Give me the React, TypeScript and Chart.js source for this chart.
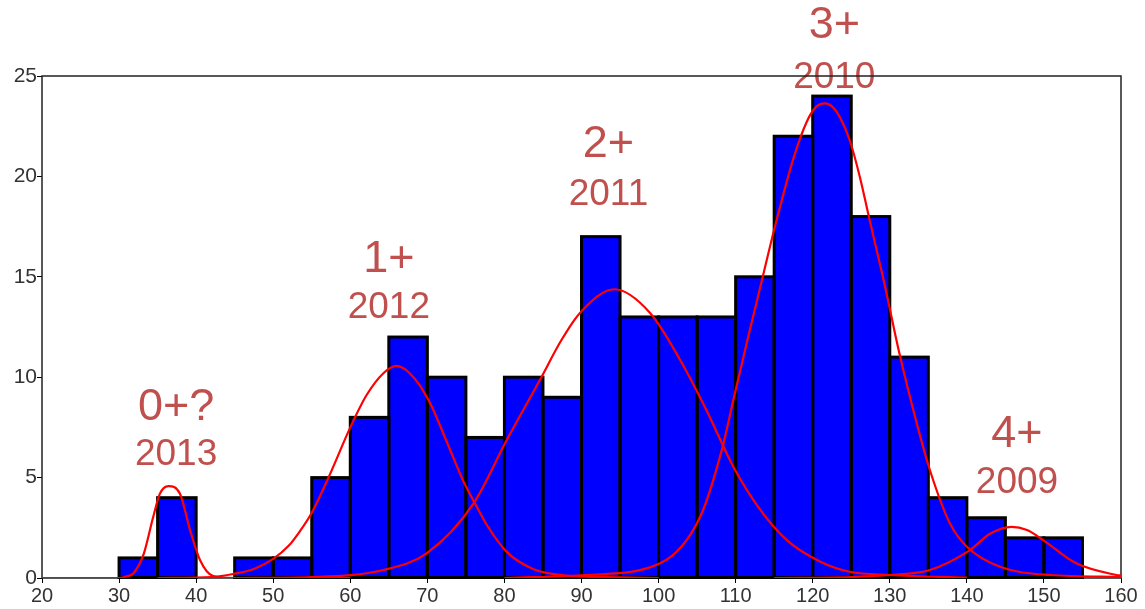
import React, { useEffect, useRef } from "react";
import { Chart, registerables } from "chart.js";

Chart.register(...registerables);

// Histogram bins (centre of each 5-unit bin) and counts
const binCenters = [32.5, 37.5, 47.5, 52.5, 57.5, 62.5, 67.5, 72.5, 77.5, 82.5, 87.5, 92.5, 97.5, 102.5, 107.5, 112.5, 117.5, 122.5, 127.5, 132.5, 137.5, 142.5, 147.5, 152.5];
const binCounts = [1, 4, 1, 1, 5, 8, 12, 10, 7, 10, 9, 17, 13, 13, 13, 15, 22, 24, 18, 11, 4, 3, 2, 2];

// Fitted component curves
const curve0X = [20, 30, 31, 31.9, 33.2, 34.4, 35.3, 36.4, 37.9, 39.2, 40.5, 42.2, 45, 60];
const curve0Y = [0, 0, 0.08, 0.25, 1.2, 3.0, 4.2, 4.58, 4.2, 2.4, 0.9, 0.1, 0, 0];

const curve1X = [35, 42, 44.8, 47.5, 50, 52, 53.5, 55, 57.4, 60, 62.1, 64.3, 66, 68.2, 70.3, 72.5, 74.7, 76.2, 77.7, 80.3, 83.7, 88.1, 95, 100];
const curve1Y = [0, 0.05, 0.2, 0.45, 0.95, 1.6, 2.35, 3.25, 5.2, 7.5, 9.1, 10.2, 10.56, 10.0, 8.75, 6.8, 4.8, 3.7, 2.65, 1.3, 0.45, 0.12, 0.03, 0];

const curve2X = [45, 55, 64.3, 69.9, 76, 80.3, 84.6, 87.4, 89.8, 94.3, 98.9, 102.8, 106.2, 109.7, 113.2, 116.6, 121, 124.8, 130, 140];
const curve2Y = [0, 0.05, 0.4, 1.23, 3.72, 6.87, 9.86, 11.85, 13.2, 14.38, 13.2, 10.86, 8.37, 5.54, 3.39, 1.9, 0.81, 0.31, 0.15, 0.02];

const curve3X = [80, 90.7, 100.2, 105.4, 108.2, 109.7, 111.5, 113.2, 115.3, 117.5, 119.2, 120.4, 121.6, 122.6, 123.5, 124.8, 126.1, 127.4, 129.2, 131.3, 133.5, 135.2, 137.8, 140, 144.3, 150.8, 160];
const curve3Y = [0, 0.15, 0.73, 3.05, 6.37, 8.86, 11.8, 14.5, 17.8, 20.9, 22.7, 23.45, 23.64, 23.45, 22.97, 21.8, 20.0, 17.8, 14.84, 11.1, 7.7, 5.38, 2.72, 1.56, 0.56, 0.15, 0.06];

const curve4X = [115, 125, 130, 135.2, 140.4, 143, 145.8, 147.8, 149.9, 154.2, 159.4, 160];
const curve4Y = [0, 0.05, 0.15, 0.4, 1.39, 2.2, 2.55, 2.39, 1.89, 0.73, 0.15, 0.12];

// Axis ticks
const xTicks = [20, 30, 40, 50, 60, 70, 80, 90, 100, 110, 120, 130, 140, 150, 160];
const yTicks = [0, 5, 10, 15, 20, 25];

// Age-class labels
const ageLabels = ["0+?", "1+", "2+", "3+", "4+"];
const yearLabels = ["2013", "2012", "2011", "2010", "2009"];
const labelAnchorX = [37.4, 65.0, 93.5, 122.8, 146.5];
const ageLabelY = [7.87, 15.25, 20.98, 26.88, 6.54];
const yearLabelY = [5.63, 12.93, 18.58, 24.39, 4.23];

const FONT = "'Liberation Sans', Arial, sans-serif";
const LABEL_COLOR = "#C0504D";

const zip = (xs: number[], ys: number[]) => xs.map((x, i) => ({ x, y: ys[i] }));

const decorPlugin = {
  id: "decor",
  beforeDatasetsDraw(chart: any) {
    const { ctx, chartArea: a, scales } = chart;
    ctx.save();
    ctx.fillStyle = LABEL_COLOR;
    ctx.textAlign = "center";
    ctx.textBaseline = "alphabetic";
    for (let i = 0; i < ageLabels.length; i++) {
      const px = scales.x.getPixelForValue(labelAnchorX[i]);
      ctx.font = `45px ${FONT}`;
      ctx.fillText(ageLabels[i], px, scales.y.getPixelForValue(ageLabelY[i]));
      ctx.font = `37px ${FONT}`;
      ctx.fillText(yearLabels[i], px, scales.y.getPixelForValue(yearLabelY[i]));
    }
    ctx.strokeStyle = "#222";
    ctx.lineWidth = 1.5;
    ctx.strokeRect(a.left, a.top, a.right - a.left, a.bottom - a.top);
    ctx.restore();
  },
  afterDatasetDraw(chart: any, args: any) {
    if (args.index !== 0) return;
    const { ctx } = chart;
    ctx.save();
    ctx.strokeStyle = "#000";
    ctx.lineWidth = 3;
    ctx.lineJoin = "miter";
    for (const el of args.meta.data) {
      const p = el.getProps(["x", "y", "base", "width"], true);
      ctx.strokeRect(p.x - p.width / 2, p.y, p.width, p.base - p.y);
    }
    ctx.restore();
  },
};

export default function App() {
  const ref = useRef<HTMLCanvasElement | null>(null);
  useEffect(() => {
    if (!ref.current) return;
    const curveDs = (xs: number[], ys: number[]) => ({
      type: "line" as const,
      data: zip(xs, ys),
      borderColor: "#FF0000",
      borderWidth: 2.2,
      pointRadius: 0,
      fill: false,
      cubicInterpolationMode: "monotone" as const,
      order: 1,
    });
    const chart = new Chart(ref.current, {
      type: "bar",
      data: {
        datasets: [
          {
            type: "bar",
            data: zip(binCenters, binCounts),
            backgroundColor: "#0000FF",
            borderWidth: 0,
            barPercentage: 1,
            categoryPercentage: 1,
            order: 2,
          } as any,
          curveDs(curve0X, curve0Y),
          curveDs(curve1X, curve1Y),
          curveDs(curve2X, curve2Y),
          curveDs(curve3X, curve3Y),
          curveDs(curve4X, curve4Y),
        ],
      },
      options: {
        animation: false,
        responsive: false,
        devicePixelRatio: 1,
        layout: { padding: { top: 76, right: 24, left: 0, bottom: 0 } },
        plugins: { legend: { display: false }, tooltip: { enabled: false } },
        scales: {
          x: {
            type: "linear",
            min: 20,
            max: 160,
            offset: false,
            afterBuildTicks: (s: any) => {
              s.ticks = xTicks.map((v) => ({ value: v }));
            },
            afterFit: (s: any) => {
              s.height = 31;
            },
            grid: { display: true, drawOnChartArea: false, drawTicks: true, tickLength: 5, color: "#000", offset: false },
            border: { display: false },
            ticks: { color: "#333", font: { family: FONT, size: 20 }, padding: 1, maxRotation: 0, autoSkip: false },
          },
          y: {
            type: "linear",
            min: 0,
            max: 25,
            afterBuildTicks: (s: any) => {
              s.ticks = yTicks.map((v) => ({ value: v }));
            },
            afterFit: (s: any) => {
              s.width = 42;
            },
            grid: { display: true, drawOnChartArea: false, drawTicks: true, tickLength: 5, color: "#000" },
            border: { display: false },
            ticks: { color: "#333", font: { family: FONT, size: 21 }, padding: 0 },
          },
        },
      },
      plugins: [decorPlugin],
    });
    return () => chart.destroy();
  }, []);
  return (
    <div style={{ position: "absolute", left: 0, top: 0, width: 1145, height: 609, background: "#fff" }}>
      <canvas ref={ref} width={1145} height={609} style={{ display: "block" }} />
    </div>
  );
}
